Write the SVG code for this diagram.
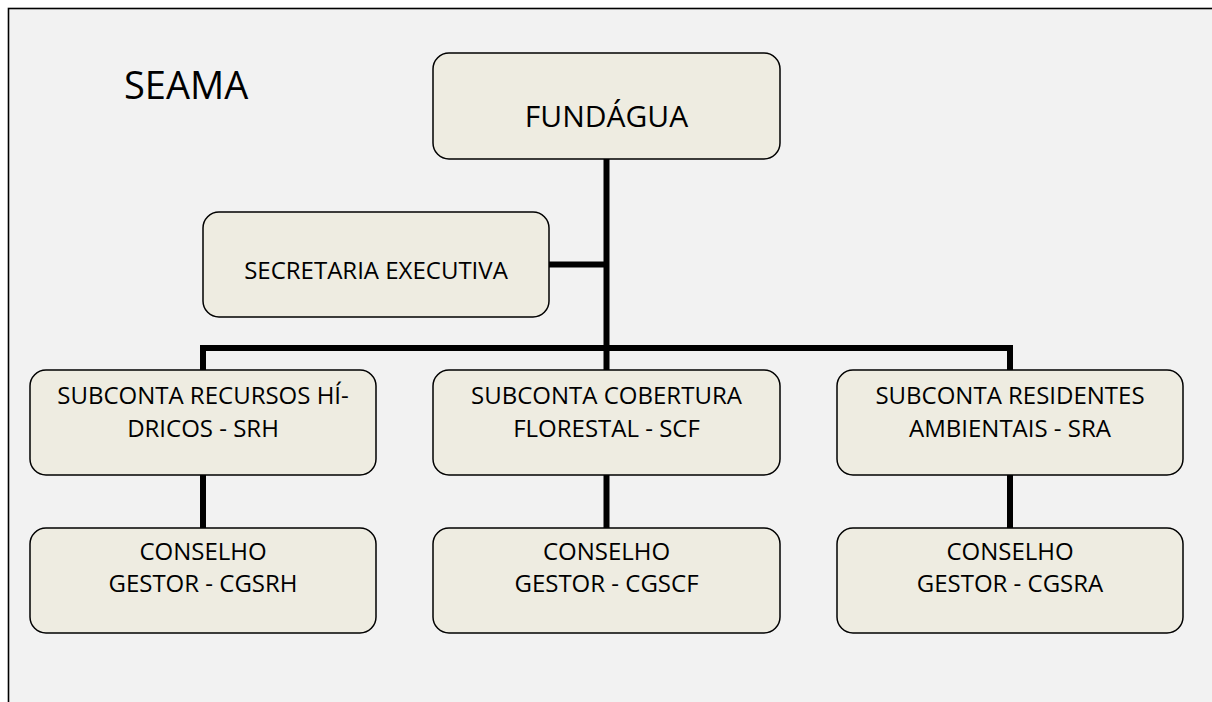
<svg xmlns="http://www.w3.org/2000/svg" width="1212" height="702" viewBox="0 0 1212 702">
  <style>
    .node rect { fill: #eeece1; stroke: #000; stroke-width: 1.5; }
    text { font-family: "Open Sans", "Noto Sans", sans-serif; fill: #000; text-anchor: middle; }
    .t { font-size: 24px; }
    .conn { fill: none; stroke: #000; stroke-width: 6; stroke-linejoin: miter; }
  </style>
  <rect x="0" y="0" width="1212" height="702" fill="#ffffff"/>
  <rect id="frame" x="8.5" y="8.5" width="1230" height="730" fill="#f2f2f2" stroke="#000" stroke-width="1.6"/>
  <text id="seama" x="124" y="99" style="font-size:38px;text-anchor:start">SEAMA</text>

  <g id="connectors">
    <path class="conn" d="M606.5 159 V348"/>
    <path class="conn" d="M549 264.5 H606.5"/>
    <path class="conn" d="M203 370 V348 H1010 V370"/>
    <path class="conn" d="M606.5 348 V370"/>
    <path class="conn" d="M203 475 V528"/>
    <path class="conn" d="M606.5 475 V528"/>
    <path class="conn" d="M1010 475 V528"/>
  </g>

  <g id="fundagua" class="node">
    <rect x="433" y="53" width="347" height="106" rx="16"/>
    <text x="606.5" y="127" style="font-size:30px">FUNDÁGUA</text>
  </g>
  <g id="secretaria" class="node">
    <rect x="203" y="212" width="346" height="105" rx="16"/>
    <text class="t" x="376" y="279">SECRETARIA EXECUTIVA</text>
  </g>
  <g id="srh" class="node">
    <rect x="30" y="370" width="346" height="105" rx="16"/>
    <text class="t" x="203" y="404">SUBCONTA RECURSOS HÍ-</text>
    <text class="t" x="203" y="437">DRICOS - SRH</text>
  </g>
  <g id="scf" class="node">
    <rect x="433" y="370" width="347" height="105" rx="16"/>
    <text class="t" x="606.5" y="404">SUBCONTA COBERTURA</text>
    <text class="t" x="606.5" y="437">FLORESTAL - SCF</text>
  </g>
  <g id="sra" class="node">
    <rect x="837" y="370" width="346" height="105" rx="16"/>
    <text class="t" x="1010" y="404">SUBCONTA RESIDENTES</text>
    <text class="t" x="1010" y="437">AMBIENTAIS - SRA</text>
  </g>
  <g id="cgsrh" class="node">
    <rect x="30" y="528" width="346" height="105" rx="16"/>
    <text class="t" x="203" y="560">CONSELHO</text>
    <text class="t" x="203" y="592">GESTOR - CGSRH</text>
  </g>
  <g id="cgscf" class="node">
    <rect x="433" y="528" width="347" height="105" rx="16"/>
    <text class="t" x="606.5" y="560">CONSELHO</text>
    <text class="t" x="606.5" y="592">GESTOR - CGSCF</text>
  </g>
  <g id="cgsra" class="node">
    <rect x="837" y="528" width="346" height="105" rx="16"/>
    <text class="t" x="1010" y="560">CONSELHO</text>
    <text class="t" x="1010" y="592">GESTOR - CGSRA</text>
  </g>
</svg>
